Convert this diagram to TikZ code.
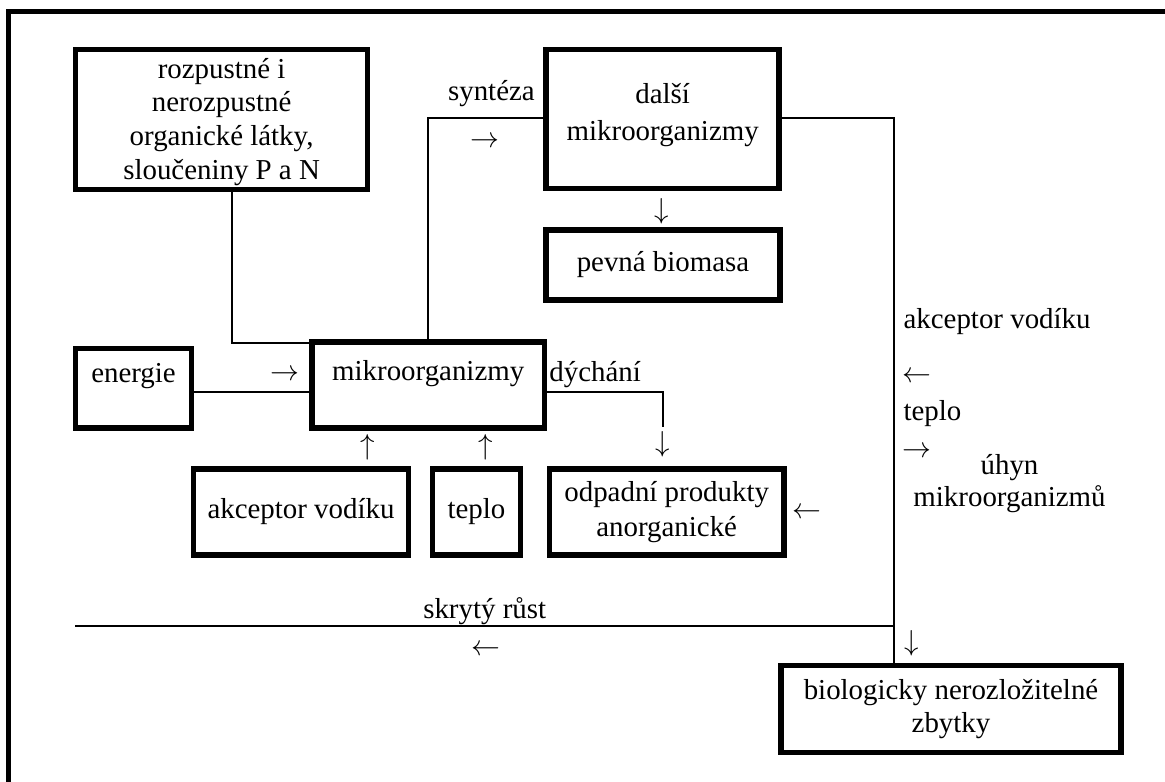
\RequirePackage{fix-cm}
\documentclass[tikz,border=0pt]{standalone}
\usepackage{fontspec}
\setmainfont{Liberation Serif}
\newcommand\diafs{\fontsize{29}{35}\selectfont}
\begin{document}
\begin{tikzpicture}[x=1bp,y=-1bp,
  box/.style={draw,line width=5.5bp,inner sep=0pt,align=center,font=\diafs},
  lbl/.style={inner sep=0pt,font=\diafs},
  wire/.style={line width=1.8bp}]
\useasboundingbox (0,0) rectangle (1165,782);
\clip (0,0) rectangle (1165,782);
\draw[line width=5bp] (8.5,11.5) rectangle (1200,820);

% boxes
\node[box,minimum width=292bp,minimum height=140bp,
  label={[lbl,align=center,yshift=-2.5bp]center:{rozpustné i\\[-1bp]nerozpustné\\[-1bp]organické látky,\\[-1bp]sloučeniny P a N}}] (src) at (221.6,119.5) {};
\node[box,minimum width=233bp,minimum height=139bp,
  label={[lbl,align=center,yshift=4bp]center:{další\\[2bp]mikroorganizmy}}] (dalsi) at (662.7,119) {};
\node[box,minimum width=234bp,minimum height=70bp] (bio1) at (663,265) {pevná biomasa};
\node[box,minimum width=232.5bp,minimum height=86bp,text height=20bp,text depth=30bp] (mikro) at (428.2,385) {mikroorganizmy};
\node[box,minimum width=116bp,minimum height=79.5bp,text height=20bp,text depth=32.5bp] (en) at (133.5,388.25) {energie};
\node[box,minimum width=215bp,minimum height=86bp] (akc) at (301,512) {akceptor vodíku};
\node[box,minimum width=88bp,minimum height=86bp] (tep) at (476.5,512) {teplo};
\node[box,minimum width=234.5bp,minimum height=86bp] (odp) at (666.7,512) {odpadní produkty\\anorganické};
\node[box,minimum width=340bp,minimum height=87bp] (bio) at (951,709) {biologicky nerozložitelné\\[-2bp]zbytky};

% connectors
\coordinate (dy) at (663,427);
\coordinate (jv) at (893.7,626);
\coordinate (sk) at (75,626);
\draw[wire] ([xshift=10.3bp]src.south) |- ([yshift=-4bp]mikro.north west);
\draw[wire] ([yshift=-4bp]en.east) -- ([yshift=-4bp]en.east -| mikro.west);
\draw[wire] (mikro.north) |- ([yshift=1bp]dalsi.west);
\draw[wire] ([yshift=-7bp]mikro.east) -| (dy);
\draw[wire] ([yshift=1bp]dalsi.east) -| (jv) -- (jv |- bio.north);
\draw[wire] (jv) -- (sk);

% labels
\node[lbl,anchor=base] (syn) at (491.4,101) {syntéza};
\node[lbl] (ar1) at (485,142) {$\rightarrow$};
\node[lbl] (ar2) at (662.2,211) {$\downarrow$};
\node[lbl] (ar3) at (285,375) {$\rightarrow$};
\node[lbl,anchor=base west] (dych) at (549.2,381) {dýchání};
\node[lbl] (ar4) at (663,444) {$\downarrow$};
\node[lbl] (ar5) at (367.4,447) {$\uparrow$};
\node[lbl] (ar6) at (486,447) {$\uparrow$};
\node[lbl] (ar7) at (807,513) {$\leftarrow$};
\node[lbl,anchor=base west] (akr) at (903.4,328) {akceptor vodíku};
\node[lbl] (ar8) at (917,377) {$\leftarrow$};
\node[lbl,anchor=base west] (tpr) at (903.4,420) {teplo};
\node[lbl] (ar9) at (917,452) {$\rightarrow$};
\node[lbl,anchor=base,align=center] (uhyn) at (1009.5,506) {úhyn\\[-3bp]mikroorganizmů};
\node[lbl,anchor=base] (skr) at (484.7,618) {skrytý růst};
\node[lbl] (ar10) at (485.5,650) {$\leftarrow$};
\node[lbl] (ar11) at (911.9,643) {$\downarrow$};
\end{tikzpicture}
\end{document}
